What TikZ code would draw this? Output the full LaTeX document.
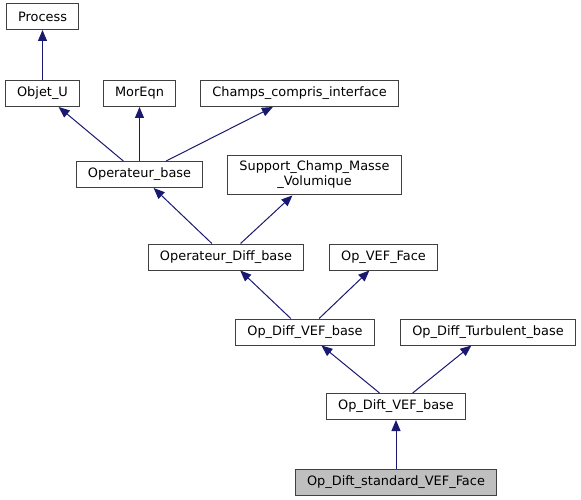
\documentclass[tikz,border=0pt]{standalone}
\usepackage{fontspec}
\setmainfont{DejaVu Sans}
\usetikzlibrary{arrows.meta,positioning}

\definecolor{edgeblue}{HTML}{191970}
\definecolor{boxline}{HTML}{404040}
\definecolor{curfill}{HTML}{BFBFBF}

\begin{document}
\begin{tikzpicture}[%
    x=1pt, y=-1pt,              % pixel-like units, y grows downwards
    >={Triangle[length=11pt,width=9pt]},
    node distance=50pt,
    font=\fontsize{12.9}{15}\selectfont
    ]

\tikzset{
    base/.style={draw=boxline, line width=1pt, align=center, inner xsep=11.5pt, inner ysep=6pt, minimum height=26pt},
    cls/.style={base, fill=white},
    cur/.style={base, fill=curfill},
    % inheritance arrows
    inh/.style={->, line width=1pt, edgeblue},
}

\useasboundingbox (0,0) rectangle (581,500);

%% Top rows
\node [cls] (objetu) at (42.5,93.5) {Objet\_U};
\node [cls, above=50pt of objetu] (process) {Process};
    \draw [inh] (objetu) -- (process);
\node [cls] (moreqn) at (139.5,93.5) {MorEqn};
\node [cls] (champs) at (299.5,93.5) {Champs\_compris\_interface};

%% Operateur_base
\node [cls] (opbase) at (139.5,174.5) {Operateur\_base};
    \draw [inh] (opbase) -- (objetu);
    \draw [inh] (opbase) -- (moreqn);
    \draw [inh] (opbase) -- (champs);
\node [cls] (support) at (314.5,175) {Support\_Champ\_Masse\\\_Volumique};

%% Operateur_Diff_base
\node [cls] (opdiff) at (226,257) {Operateur\_Diff\_base};
    \draw [inh] (opdiff) -- (opbase);
    \draw [inh] (opdiff) -- (support);
\node [cls] (vefface) at (383.5,257) {Op\_VEF\_Face};

%% Op_Diff_VEF_base
\node [cls] (diffvef) at (305,332) {Op\_Diff\_VEF\_base};
    \draw [inh] (diffvef) -- (opdiff);
    \draw [inh] (diffvef) -- (vefface);
\node [cls] (turb) at (488,332) {Op\_Diff\_Turbulent\_base};

%% Op_Dift_VEF_base
\node [cls] (diftvef) at (396,406.5) {Op\_Dift\_VEF\_base};
    \draw [inh] (diftvef) -- (diffvef);
    \draw [inh] (diftvef) -- (turb);
\node [cur, below=48.5pt of diftvef] (std) {Op\_Dift\_standard\_VEF\_Face};
    \draw [inh] (std) -- (diftvef);
\end{tikzpicture}
\end{document}
